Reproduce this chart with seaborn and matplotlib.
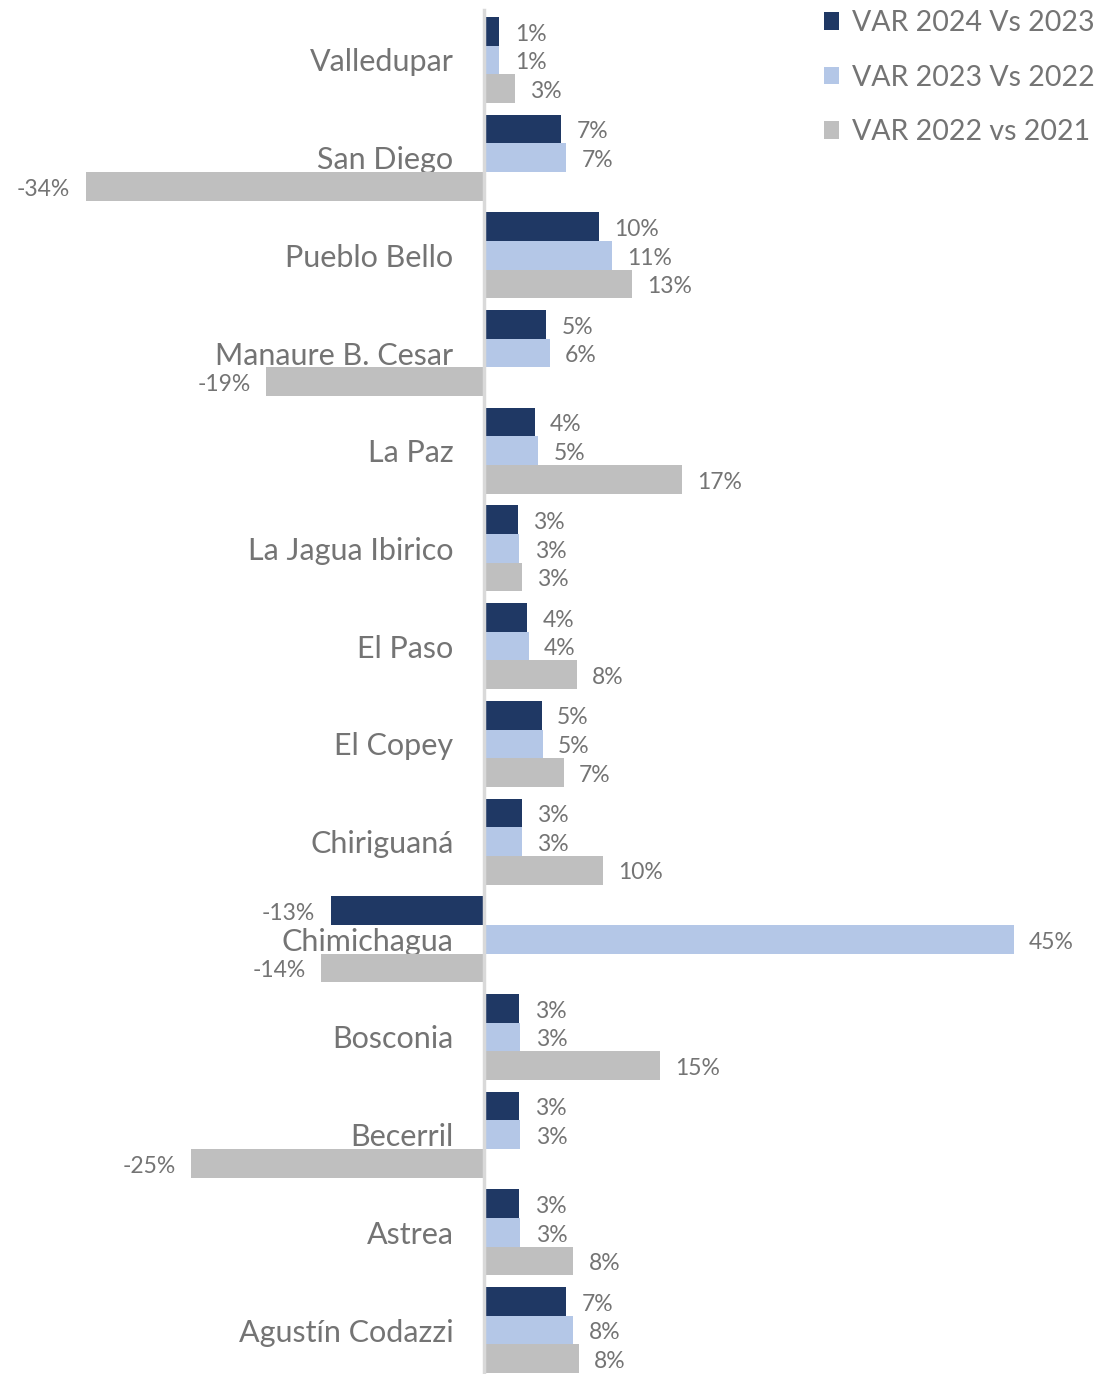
import pandas as pd
import matplotlib.pyplot as plt
import seaborn as sns

# Data (percent change)
municipios = ['Valledupar', 'San Diego', 'Pueblo Bello', 'Manaure B. Cesar', 'La Paz',
              'La Jagua Ibirico', 'El Paso', 'El Copey', 'Chiriguaná', 'Chimichagua',
              'Bosconia', 'Becerril', 'Astrea', 'Agustín Codazzi']
series = ['VAR 2024 Vs 2023', 'VAR 2023 Vs 2022', 'VAR 2022 vs 2021']
var_2024 = [1.3, 6.6, 9.8, 5.3, 4.3, 2.9, 3.7, 4.9, 3.2, -13.1, 3.0, 3.0, 3.0, 7.0]
var_2023 = [1.3, 7.0, 10.9, 5.6, 4.6, 3.0, 3.8, 5.0, 3.2, 45.2, 3.1, 3.1, 3.1, 7.6]
var_2022 = [2.6, -34.0, 12.6, -18.6, 16.9, 3.2, 7.9, 6.8, 10.1, -13.9, 15.0, -25.0, 7.6, 8.1]
colors = ['#1F3864', '#B4C7E7', '#BFBFBF']

df = pd.DataFrame({
    'municipio': municipios * 3,
    'serie': [series[0]] * 14 + [series[1]] * 14 + [series[2]] * 14,
    'valor': var_2024 + var_2023 + var_2022,
})

sns.set_style('white')
plt.rcParams['font.family'] = ['Lato', 'DejaVu Sans']
text_color = '#747474'

fig = plt.figure(figsize=(10.96, 13.74), dpi=100)
ax = fig.add_axes([0, 0, 1, 1])
sns.barplot(data=df, y='municipio', x='valor', hue='serie', order=municipios,
            hue_order=series, palette=colors, orient='h', width=0.88,
            linewidth=0, saturation=1, ax=ax)

ax.set_xlim(-41.3, 52.2)
ax.set_ylim(13.45, -0.614)

# value labels (nudged slightly below bar centre like the original)
for cont in ax.containers:
    vals = cont.datavalues
    labs = ax.bar_label(cont, labels=[f'{v:.0f}%' for v in vals], padding=11,
                        fontsize=16.5, color=text_color)
    for t in labs:
        x0, y0 = t.xyann
        t.xyann = (x0, y0 - 2)

# zero line as the left spine carrying the category names
for s in ['top', 'right', 'bottom']:
    ax.spines[s].set_visible(False)
ax.spines['left'].set_position(('data', 0))
ax.spines['left'].set_color('#D9D9D9')
ax.spines['left'].set_linewidth(2.5)
ax.spines['left'].set_bounds(-0.51, 13.45)
ax.tick_params(axis='y', length=0, pad=22, labelsize=22, labelcolor=text_color)
ax.set_xticks([])
ax.set_xlabel('')
ax.set_ylabel('')

leg = ax.legend(loc='upper right', bbox_to_anchor=(1.012, 1.003), frameon=False,
                fontsize=20.5, handlelength=0.55, handleheight=0.55,
                handletextpad=0.45, labelspacing=1.0, borderaxespad=0.1)
for t in leg.get_texts():
    t.set_color(text_color)

fig.savefig('out.png', dpi=100)
